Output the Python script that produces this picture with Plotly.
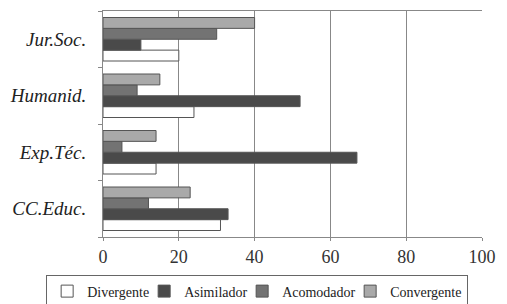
import plotly.graph_objects as go

categories = ["CC.Educ.", "Exp.Téc.", "Humanid.", "Jur.Soc."]
divergente = [31, 14, 24, 20]
asimilador = [33, 67, 52, 10]
acomodador = [12, 5, 9, 30]
convergente = [23, 14, 15, 40]
series_names = ["Divergente", "Asimilador", "Acomodador", "Convergente"]
series_values = [divergente, asimilador, acomodador, convergente]
colors = ["#ffffff", "#4a4a4a", "#737373", "#a9a9a9"]
legend_widths = [52, 53, 63, 72]

serif = "Liberation Serif"

fig = go.Figure()
for name, vals, col, lw in zip(series_names, series_values, colors, legend_widths):
    fig.add_trace(go.Bar(
        y=categories, x=vals, name=name, orientation="h",
        marker=dict(color=col, line=dict(color="#555555", width=1)),
        legendwidth=lw,
    ))

fig.update_layout(
    width=499, height=304,
    margin=dict(l=95, r=25, t=3, b=72),
    barmode="group", bargap=0.23, bargroupgap=0,
    plot_bgcolor="white", paper_bgcolor="white",
    font=dict(family=serif, size=14, color="#222222"),
    legend=dict(
        orientation="h", x=-0.15, xanchor="left", y=-0.166, yanchor="top",
        bordercolor="#666666", borderwidth=1, font=dict(size=14, family=serif),
        itemwidth=30, tracegroupgap=0,
    ),
    xaxis=dict(
        range=[0, 100], tickvals=[0, 20, 40, 60, 80, 100],
        showgrid=True, gridcolor="#888888", gridwidth=1,
        showline=True, linecolor="#888888", mirror=True,
        ticks="outside", ticklen=3, tickcolor="#888888",
        tickfont=dict(size=18, family=serif, color="#333333"),
        zeroline=False, automargin=False,
    ),
    yaxis=dict(
        showline=True, linecolor="#888888", automargin=False,
        ticks="outside", ticklen=4, tickcolor="#888888", tickson="boundaries",
        tickfont=dict(size=19, family=serif, color="#222222", style="italic"),
        ticklabelstandoff=12,
    ),
)
fig.write_html("out.html")
